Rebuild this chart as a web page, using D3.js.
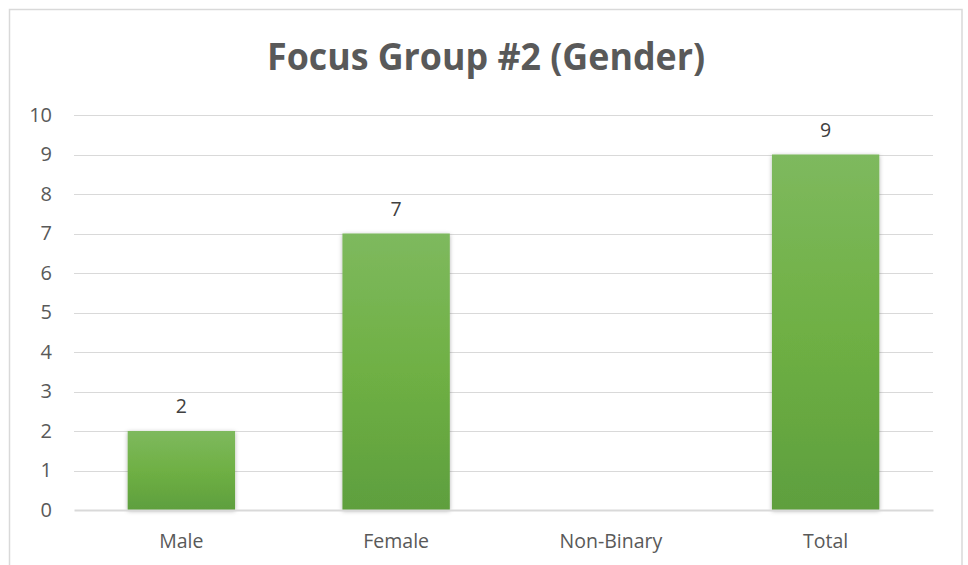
<!DOCTYPE html>
<html>
<head>
<meta charset="utf-8">
<script src="https://cdn.jsdelivr.net/npm/d3@7"></script>
<style>
  body { margin: 0; background: #fff; }
  svg text { font-family: "Open Sans", "Noto Sans", sans-serif; }
</style>
</head>
<body>
<div id="chart"></div>
<script>
const categories = ["Male", "Female", "Non-Binary", "Total"];
const counts = [2, 7, null, 9];
const yTicks = [0, 1, 2, 3, 4, 5, 6, 7, 8, 9, 10];
const title = "Focus Group #2 (Gender)";

const width = 968, height = 565;
const plot = { left: 74, right: 933, top: 115, bottom: 510 };

const svg = d3.select("#chart").append("svg")
  .attr("width", width)
  .attr("height", height);

const defs = svg.append("defs");
const grad = defs.append("linearGradient")
  .attr("id", "barGrad")
  .attr("x1", 0).attr("y1", 0).attr("x2", 0).attr("y2", 1);
grad.append("stop").attr("offset", "0%").attr("stop-color", "#7eb95e");
grad.append("stop").attr("offset", "50%").attr("stop-color", "#6fb044");
grad.append("stop").attr("offset", "100%").attr("stop-color", "#5e9f3e");

const shadow = defs.append("filter")
  .attr("id", "barShadow")
  .attr("x", "-10%").attr("y", "-10%")
  .attr("width", "120%").attr("height", "120%");
shadow.append("feDropShadow")
  .attr("dx", 0).attr("dy", 1)
  .attr("stdDeviation", 2)
  .attr("flood-color", "#000")
  .attr("flood-opacity", 0.3);

// chart area border (bottom edge runs off the page)
svg.append("path")
  .attr("d", "M9.5,565 V9.5 H962 V565")
  .attr("fill", "none")
  .attr("stroke", "#d9d9d9")
  .attr("stroke-width", 1.5);

svg.append("text")
  .attr("x", 486)
  .attr("y", 70)
  .attr("text-anchor", "middle")
  .attr("font-size", 37)
  .attr("font-weight", 700)
  .attr("fill", "#595959")
  .attr("textLength", 438)
  .attr("lengthAdjust", "spacingAndGlyphs")
  .text(title);

const x = d3.scaleBand()
  .domain(categories)
  .range([plot.left, plot.right])
  .paddingInner(0.5)
  .paddingOuter(0.25);

const y = d3.scaleLinear()
  .domain([0, 10])
  .range([plot.bottom, plot.top]);

// gridlines
svg.append("g")
  .selectAll("line")
  .data(yTicks.filter(d => d > 0))
  .enter()
  .append("line")
  .attr("x1", plot.left)
  .attr("x2", plot.right)
  .attr("y1", d => Math.round(y(d)) + 0.5)
  .attr("y2", d => Math.round(y(d)) + 0.5)
  .attr("stroke", "#d9d9d9")
  .attr("stroke-width", 1);

// y axis labels
const yAxis = svg.append("g")
  .attr("transform", `translate(${plot.left - 22},0)`)
  .call(d3.axisLeft(y).tickValues(yTicks).tickSize(0).tickPadding(0));
yAxis.select(".domain").remove();
yAxis.selectAll("text")
  .attr("font-size", 20)
  .attr("fill", "#595959")
  .style("font-family", "'Open Sans', sans-serif");

// bars
svg.append("g")
  .selectAll("rect")
  .data(categories.map((c, i) => ({ cat: c, val: counts[i] })).filter(d => d.val != null))
  .enter()
  .append("rect")
  .attr("x", d => x(d.cat))
  .attr("y", d => y(d.val))
  .attr("width", x.bandwidth())
  .attr("height", d => y(0) - y(d.val))
  .attr("fill", "url(#barGrad)")
  .attr("filter", "url(#barShadow)");

// x axis
const xAxis = svg.append("g")
  .attr("transform", `translate(0,${plot.bottom})`)
  .call(d3.axisBottom(x).tickSize(0).tickPadding(24));
xAxis.select(".domain")
  .attr("stroke", "#d9d9d9")
  .attr("stroke-width", 2);
xAxis.selectAll("text")
  .attr("font-size", 19.5)
  .attr("fill", "#595959")
  .style("font-family", "'Open Sans', sans-serif");

// data labels
svg.append("g")
  .selectAll("text")
  .data(categories.map((c, i) => ({ cat: c, val: counts[i] })).filter(d => d.val != null))
  .enter()
  .append("text")
  .attr("x", d => x(d.cat) + x.bandwidth() / 2)
  .attr("y", d => y(d.val) - 18)
  .attr("text-anchor", "middle")
  .attr("font-size", 19.5)
  .attr("fill", "#404040")
  .text(d => d.val);
</script>
</body>
</html>
